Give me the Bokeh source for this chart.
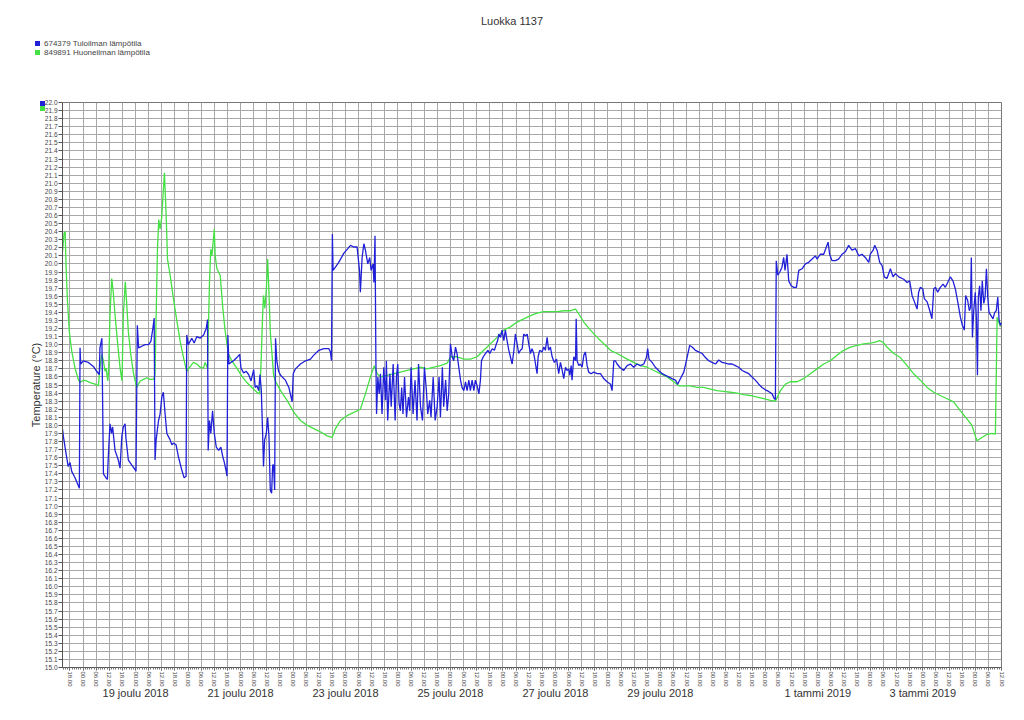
from bokeh.plotting import figure
from bokeh.models import (FixedTicker, LinearAxis, CustomJSTickFormatter, Div,
                          Range1d, PrintfTickFormatter)
from bokeh.layouts import column
from bokeh.embed import file_html
from bokeh.resources import INLINE

FONT = "Liberation Sans"

# hours since 2018-12-17 00:00
blue_h = [14.6, 15, 16.2, 17.2, 18, 18.8, 20.3, 22.3, 22.6, 22.9, 24.1, 26.4, 28.7, 30.2, 31.4, 31.7, 32.6, 33.3, 34.5, 35.1,
          35.6, 36.3, 37.0, 37.5, 38.6, 40.1, 40.9, 41.7, 42.4, 43.2, 43.6, 44.7, 46.2, 47.8, 48.2, 48.8, 49.4, 50.8, 52.3, 53.9,
          55, 55.9, 56.5, 56.9, 57.4, 58.5, 59.2, 60, 60.7, 61.5, 62.3, 63.8, 64.6, 65.3, 66.5, 67.6, 69.1, 70.2, 71.1, 71.4,
          72.1, 73.7, 74.8, 76, 77.5, 79.1, 80.3, 80.9, 81.2, 81.8, 82.4, 83.2, 84, 84.9, 86, 87, 87.9, 88.5, 89.3, 89.8,
          90.2, 90.7, 91.6, 92.8, 94.3, 95.6, 96.2, 97.4, 98.6, 99.7, 100.8, 102, 102.7, 103.5, 104.3, 104.9, 105.5, 106.1, 106.5, 107,
          107.8, 108.4, 109, 109.6, 110.2, 110.7, 111.1, 111.6, 112, 112.6, 113.4,
          114.3, 116.5, 118.1, 119.6, 120.1, 121.1, 123.4, 125.7, 128, 129.5, 131.8, 134.1, 136.4, 137.1, 137.6, 138, 138.3, 139.4,
          140.9, 143.2, 146.3, 147.8, 149.3, 150.4, 150.8, 151.6, 152.4, 153.1, 154.2, 155.1, 155.7, 156.6, 157, 157.5, 157.9,
          158.2, 158.8, 159.4, 160, 160.7, 161.5, 162.3, 162.7, 163.3, 164.3, 164.9, 165.8, 166.7, 167.3, 167.9, 168.5, 169.1,
          169.7, 170.3, 171, 171.9, 172.8, 173.4, 174, 174.9, 175.8, 176.7, 177.4, 178.3, 179.2, 180.1, 181, 181.6, 182.5, 183.1,
          184.1, 185, 185.9, 186.8, 187.4, 188.3, 188.9, 189.8, 190.5, 191.2,
          192, 192.8, 193.5, 194.3, 195, 195.8, 196.6, 197.3, 198.1, 198.9, 199.6, 200.4, 201.1, 201.9, 202.7, 203.4, 204.2, 205,
          205.7, 206.2, 207, 208, 209.1, 210, 211.1, 212.1, 213, 213.6, 214.1, 214.9, 215.6, 216.4, 217.1, 217.9, 218.7, 219.4,
          220.2, 221, 221.7, 222.5, 223.2, 224, 224.8, 225.5, 226.3, 227.1, 227.8, 228.6, 229.3, 230.1, 230.9, 231.6, 232.1,
          232.8, 233.9, 234.7, 235.4, 236.2, 236.9, 237.7, 238.5, 239.5, 240.5, 241.5, 242.3, 243.1, 243.8, 244.6, 245.3, 246.1,
          246.6, 247.2, 247.6, 248.4, 249.2, 249.5, 249.9, 250.7, 251.4, 252.2, 253, 253.7, 254.5, 255.2, 256.3, 257.5, 259.1,
          260.6, 262.1, 263.6, 265.2, 265.9, 266.7, 267.4, 268.2, 269.4,
          271.2, 272.8, 274.3, 275.8, 277.3, 278.9, 280.4, 281.6, 282.2, 282.8, 284.2, 285.7, 287.2, 288.8, 290.3, 291.8, 293.3,
          294.9, 295.9, 297.2, 298.7, 300.2, 301.4, 302.5, 304, 305.5, 307.1, 308.6, 310.1, 311.6, 313.2, 314.7, 316.2, 317.7,
          319.3, 320.8, 322.3, 323.8, 325.4, 326.9, 328.4, 329.9, 331.4, 333, 334.5, 336, 337.5, 339.1, 340.1, 340.6, 341.0,
          341.7, 342.6, 343.6, 344.4, 345, 345.9, 346.7, 347.8, 349, 350.2, 351.3, 352.8, 354.3, 355.8, 357.4, 358.9, 359.6,
          361.2, 362.7, 363.9, 364.7, 365.4, 366.5, 368, 369.5, 371.1, 372.6, 374.1, 375.6, 377.2, 378.7, 380.2, 381.7, 383.3,
          384, 385.3, 386, 387.1, 388.3, 389.4, 390.4, 391.6, 393.2, 394.4, 395.5, 397,
          399.3, 400.8, 402, 403.1, 404.2, 405.4, 406.1, 406.9, 408, 408.7, 410, 411.2, 412.2, 413, 413.8, 414.8, 416, 417.3,
          418.3, 419.4, 420.6, 421.8, 422.9, 424, 425.2, 426.1, 427, 427.6, 428.5, 429.3, 429.8, 430.2, 430.7, 431.3, 432,
          432.5, 433, 433.4, 434, 434.6, 435.2, 435.9, 436.5, 437.1, 437.7, 438.3, 439.2, 440.1, 440.9, 441.6, 442.3, 442.9,
          443.5, 444]
blue_t = [17.95, 17.86, 17.65, 17.49, 17.54, 17.43, 17.35, 17.22, 18.96, 18.76, 18.8, 18.78, 18.73, 18.67, 18.63, 18.96, 19.08, 17.4, 17.35, 17.33,
          17.65, 18.02, 17.9, 17.98, 17.69, 17.57, 17.47, 17.86, 17.98, 18.02, 17.84, 17.57, 17.51, 17.45, 17.43, 19.24, 18.96, 18.98, 19.0, 19.0,
          19.04, 19.2, 19.33, 17.57, 17.82, 18.06, 18.14, 18.35, 18.41, 18.14, 17.9, 17.82, 17.76, 17.78, 17.76, 17.61, 17.45, 17.35, 17.37, 19.12,
          19.0, 19.08, 19.02, 19.1, 19.08, 19.12, 19.2, 19.31, 17.69, 18.06, 17.9, 18.18, 17.9, 17.73, 17.69, 17.73, 17.61, 17.55, 17.45, 17.37,
          19.12, 18.76, 18.78, 18.8, 18.84, 18.88, 18.71, 18.65, 18.67, 18.63, 18.55, 18.69, 18.47, 18.49, 18.43, 18.63, 18.43, 17.9, 17.49, 17.82,
          17.9, 18.1, 17.86, 17.2, 17.16, 17.51, 17.51, 17.2, 19.08, 18.8, 18.67,
          18.62, 18.56, 18.47, 18.29, 18.64, 18.70, 18.76, 18.8, 18.82, 18.87, 18.93, 18.95, 18.95, 18.91, 18.8, 20.37, 19.92, 19.96,
          20.02, 20.13, 20.23, 20.21, 20.21, 19.92, 19.65, 20.08, 20.25, 20.17, 20.0, 20.08, 19.92, 20.0, 19.77, 20.35, 18.8,
          18.14, 18.6, 18.39, 18.64, 18.14, 18.72, 18.31, 18.8, 18.06, 18.64, 18.23, 18.76, 18.06, 18.6, 18.76, 18.27, 18.18,
          18.47, 18.14, 18.6, 18.1, 18.35, 18.18, 18.72, 18.14, 18.56, 18.06, 18.76, 18.23, 18.06, 18.72, 18.43, 18.14, 18.31, 18.1,
          18.6, 18.06, 18.23, 18.6, 18.1, 18.72, 18.23, 18.56, 18.18, 18.39,
          19.01, 18.85, 18.8, 18.97, 18.89, 18.72, 18.56, 18.47, 18.43, 18.54, 18.43, 18.56, 18.43, 18.56, 18.43, 18.56, 18.49, 18.39,
          18.56, 18.8, 18.85, 18.89, 18.93, 18.89, 18.95, 18.93, 19.01, 19.05, 19.13, 19.09, 19.18, 19.05, 19.18, 19.05, 18.93, 18.85,
          18.76, 18.93, 19.13, 19.01, 18.89, 18.93, 18.95, 19.13, 19.11, 19.13, 19.01, 18.89, 18.95, 18.89, 18.76, 18.64, 18.85,
          18.93, 18.91, 18.97, 18.93, 19.09, 18.93, 18.97, 18.85, 18.78, 18.82, 18.64, 18.78, 18.68, 18.58, 18.72, 18.68, 18.7,
          18.62, 18.74, 18.56, 18.85, 18.8, 19.32, 18.8, 18.74, 18.76, 18.72, 18.87, 18.91, 18.74, 18.66, 18.64, 18.66, 18.64,
          18.64, 18.58, 18.54, 18.51, 18.43, 18.8, 18.8, 18.76, 18.72,
          18.68, 18.74, 18.76, 18.72, 18.76, 18.74, 18.76, 18.84, 18.95, 18.82, 18.78, 18.72, 18.68, 18.64, 18.62, 18.6, 18.58,
          18.56, 18.51, 18.58, 18.66, 18.84, 18.99, 18.97, 18.93, 18.91, 18.89, 18.84, 18.8, 18.78, 18.76, 18.81, 18.78, 18.77,
          18.76, 18.76, 18.74, 18.72, 18.68, 18.66, 18.64, 18.6, 18.56, 18.51, 18.47, 18.44, 18.42, 18.39, 18.33, 18.32, 20.04,
          19.86, 19.9, 19.96, 20.08, 19.92, 20.12, 19.79, 19.73, 19.71, 19.71, 19.92, 19.94, 20.0, 20.02, 20.06, 20.1, 20.06,
          20.12, 20.12, 20.21, 20.27, 20.12, 20.04, 20.04, 20.06, 20.12, 20.15, 20.23, 20.17, 20.19, 20.1, 20.12, 20.08, 20.02,
          20.12, 20.17, 20.23, 20.17, 20.02, 19.98, 19.84, 19.82, 19.94, 19.84, 19.88, 19.84,
          19.81, 19.77, 19.79, 19.61, 19.53, 19.44, 19.65, 19.71, 19.69, 19.57, 19.53, 19.42, 19.32, 19.69, 19.71, 19.65, 19.71, 19.75,
          19.71, 19.77, 19.84, 19.79, 19.69, 19.53, 19.34, 19.24, 19.18, 19.61, 19.55, 19.42, 19.46, 20.08, 19.09, 19.42, 19.65,
          19.34, 18.62, 19.59, 19.73, 19.42, 19.79, 19.51, 19.59, 19.94, 19.59, 19.4, 19.36, 19.32, 19.4, 19.42, 19.59, 19.3,
          19.24, 19.27]

green_h = [14.6, 15.3, 15.8, 16.2, 16.8, 17.7, 18.8, 20.3, 21.8, 22.6, 24.1, 25.6, 27.2, 29.5, 31, 31.7, 32.5, 33.3, 34, 34.5,
           35.3, 35.7, 36.3, 37.1, 37.8, 38.6, 39.7, 40.9, 41.8, 42.4, 43.3, 43.9, 44.7, 45.8, 47, 48.5, 50.1, 51.6, 53.1, 54.6,
           56.2, 56.9, 58, 58.6, 59.2, 60, 60.7, 61.2, 62, 62.6, 63.8, 65.3, 66.9, 68.4, 69.9, 71.4, 73, 74.5, 76, 77.5,
           79.1, 79.8, 80.9, 81.8, 82.4, 82.9, 83.3, 84, 84.4, 85.2, 86.7, 87.9, 89, 90.5, 92, 94.3, 96.6, 98.9, 101.2, 103.5,
           104.7, 105.3, 106.1, 106.5, 107.1, 107.8, 108.4, 109, 109.6, 110.4, 111.1, 111.9, 114.3, 117.3, 120.4, 123.4, 126.5,
           129.5, 132.5, 135.6, 137.9, 139.4, 141.7, 144.7, 147.8, 150.8, 153.1, 155.4, 157.2, 158.5, 160, 163, 166.1, 169.1,
           172.2, 175.2, 178.3, 181.3, 184.4, 187.4, 190.5, 192, 195, 198.1, 201.1, 204.2, 207.2, 210.3, 213.3, 216.4, 219.4,
           222.5, 225.5, 228.6, 231.6, 234.7, 237.7, 240.8, 243.8, 246.9, 249.2, 250.7, 253, 256, 259.1, 262.1, 265.2, 268.2,
           272.8, 275.8, 278.9, 281.9, 285, 288, 291.1, 294.1, 296.4, 298.7, 301.7, 304.8, 307.8, 310.9, 313.9, 317, 320,
           323.1, 326.1, 329.2, 332.2, 335.3, 338.3, 340.6, 342.9, 345.2, 347.4, 350.5, 353.5, 356.6, 359.6, 362.7, 365.7,
           368.8, 371.8, 374.9, 377.9, 381, 384, 386.3, 388.3, 389.8, 391.6, 394.7, 397.8, 400.8, 403.8, 406.9, 410, 413,
           416, 419.1, 422.1, 425.2, 428.2, 430.5, 432, 432.8, 435.1, 437.4, 439.7, 441.2, 442, 443.5]
green_t = [20.15, 20.38, 20.4, 19.98, 19.57, 19.16, 18.92, 18.71, 18.57, 18.53, 18.56, 18.55, 18.53, 18.51, 18.49, 18.71, 18.88, 18.8, 18.67, 18.71,
           18.55, 18.71, 19.37, 19.82, 19.65, 19.37, 19.04, 18.71, 18.55, 19.37, 19.78, 19.53, 19.16, 18.88, 18.65, 18.47, 18.55, 18.57, 18.59, 18.57,
           18.57, 18.63, 20.18, 20.55, 20.43, 20.59, 20.92, 21.13, 20.59, 20.06, 19.86, 19.57, 19.29, 19.04, 18.84, 18.67, 18.73, 18.78, 18.76, 18.72,
           18.71, 18.78, 18.71, 19.78, 20.18, 20.1, 20.22, 20.43, 20.1, 19.94, 19.86, 19.45, 19.16, 18.88, 18.8, 18.71, 18.61, 18.53, 18.47, 18.41,
           18.39, 18.71, 19.37, 19.61, 19.45, 19.69, 20.06, 19.65, 19.16, 18.88, 18.63, 18.55, 18.43, 18.31, 18.16, 18.06, 18.0,
           17.96, 17.92, 17.87, 17.85, 17.96, 18.06, 18.12, 18.16, 18.2, 18.39, 18.6, 18.74, 18.64, 18.6, 18.62, 18.64, 18.66,
           18.68, 18.7, 18.72, 18.7, 18.72, 18.74, 18.77, 18.85, 18.85, 18.82, 18.82, 18.85, 18.93, 19.01, 19.09, 19.18, 19.22,
           19.28, 19.32, 19.36, 19.39, 19.41, 19.41, 19.41, 19.42, 19.42, 19.44, 19.38, 19.28, 19.18, 19.09, 19.01, 18.93, 18.89,
           18.82, 18.78, 18.74, 18.72, 18.68, 18.64, 18.6, 18.54, 18.49, 18.49, 18.49, 18.47, 18.47, 18.45, 18.43, 18.42, 18.41,
           18.4, 18.38, 18.37, 18.35, 18.33, 18.31, 18.3, 18.43, 18.51, 18.54, 18.54, 18.58, 18.64, 18.7, 18.76, 18.8,
           18.87, 18.93, 18.97, 18.99, 19.01, 19.02, 19.03, 19.05, 19.03, 18.97, 18.89, 18.84, 18.74, 18.64, 18.56, 18.47, 18.41,
           18.37, 18.33, 18.29, 18.18, 18.08, 18.0, 17.87, 17.81, 17.85, 17.89, 17.9, 17.89, 19.34, 19.22]

hour_ticks = list(range(18, 445, 6))
date_ticks = [48, 96, 144, 192, 240, 288, 360, 408]
date_labels = ["19 joulu 2018", "21 joulu 2018", "23 joulu 2018", "25 joulu 2018",
               "27 joulu 2018", "29 joulu 2018", "1 tammi 2019", "3 tammi 2019"]
temp_ticks = [round(15.0 + 0.1 * i, 1) for i in range(71)]

title_text = "Luokka 1137"
series_names = ["674379 Tuloilman lämpötila", "849891 Huoneilman lämpötila"]
BLUE = "#2020d8"
GREEN = "#44e044"

HEAD = 60            # height of the header (title + legend)
W = 1016
BL, BR, BT, BB = 62, 15, 102 - HEAD, 45
FH = 565
H = BT + FH + BB

p = figure(width=W, height=H, output_backend="svg", toolbar_location=None,
           x_range=Range1d(14.58, 444), y_range=Range1d(15.0, 22.0),
           min_border_left=BL, min_border_right=BR, min_border_top=BT, min_border_bottom=BB,
           outline_line_color="#777777", background_fill_color="white", border_fill_color="white")

# x axis (hours)
xa = p.xaxis[0]
xa.ticker = FixedTicker(ticks=hour_ticks, minor_ticks=list(range(15, 445)))
xa.formatter = CustomJSTickFormatter(code="""
const h = Math.round(tick) % 24;
return (h < 10 ? "0" : "") + h + ".00";
""")
xa.major_label_orientation = "vertical"
xa.major_label_text_font = FONT
xa.major_label_text_font_size = "6px"
xa.major_label_text_color = "#444444"
xa.major_tick_out = 3
xa.major_tick_in = 0
xa.minor_tick_out = 2
xa.minor_tick_in = 0
xa.major_label_standoff = 1
xa.axis_line_color = "#555555"
xa.major_tick_line_color = "#555555"
xa.minor_tick_line_color = "#777777"

# date axis
date_map = "{" + ",".join(f'"{t}": "{l}"' for t, l in zip(date_ticks, date_labels)) + "}"
da = LinearAxis(ticker=FixedTicker(ticks=date_ticks),
                formatter=CustomJSTickFormatter(code=f"const m = {date_map}; return m[String(Math.round(tick))] || '';"),
                axis_line_color=None, major_tick_line_color=None, minor_tick_line_color=None,
                major_tick_out=0, major_tick_in=0,
                major_label_standoff=-3, major_label_text_font=FONT, major_label_text_font_size="11px",
                major_label_text_color="#333333")
p.add_layout(da, "below")

# y axis
ya = p.yaxis[0]
ya.ticker = FixedTicker(ticks=temp_ticks)
ya.formatter = PrintfTickFormatter(format="%.1f")
ya.major_label_text_font = FONT
ya.major_label_text_font_size = "6.5px"
ya.major_label_text_color = "#444444"
ya.major_tick_out = 4
ya.major_tick_in = 0
ya.major_label_standoff = 1
ya.axis_line_color = "#555555"
ya.major_tick_line_color = "#555555"
ya.axis_label = "Temperature (°C)"
ya.axis_label_text_font = FONT
ya.axis_label_text_font_size = "11px"
ya.axis_label_text_font_style = "normal"
ya.axis_label_text_color = "#333333"
ya.axis_label_standoff = 0

p.xgrid.grid_line_color = "#a8a8a8"
p.ygrid.grid_line_color = "#a8a8a8"
p.xgrid.grid_line_width = 1
p.ygrid.grid_line_width = 1

p.line(green_h, green_t, color=GREEN, line_width=1.3)
p.line(blue_h, blue_t, color=BLUE, line_width=1.3)

# header: title and legend (page coordinates)
rows = ""
for i, (name, col) in enumerate(zip(series_names, [BLUE, GREEN])):
    y = 39 + 9 * i
    rows += (f'<div style="position:absolute;left:35px;top:{y + 2}px;width:5px;height:5px;background:{col};"></div>'
             f'<div style="position:absolute;left:44px;top:{y}px;font-size:8px;line-height:9px;color:#444;white-space:nowrap;">{name}</div>')
    rows += (f'<div style="position:absolute;left:40px;top:{101 + 5 * i}px;width:5px;height:5px;background:{col};"></div>')
header = Div(text=(f'<div style="position:relative;width:{W}px;height:{HEAD}px;font-family:\'{FONT}\';">'
                   f'<div style="position:absolute;left:0;top:15px;width:1024px;text-align:center;font-size:11px;'
                   f'line-height:13px;color:#333;">{title_text}</div>{rows}</div>'),
             width=W, height=HEAD, margin=0,
             styles={"overflow": "visible", "z-index": "10", "position": "relative"})

layout = column(header, p, spacing=0)
open("out.html", "w").write(file_html(layout, INLINE))
